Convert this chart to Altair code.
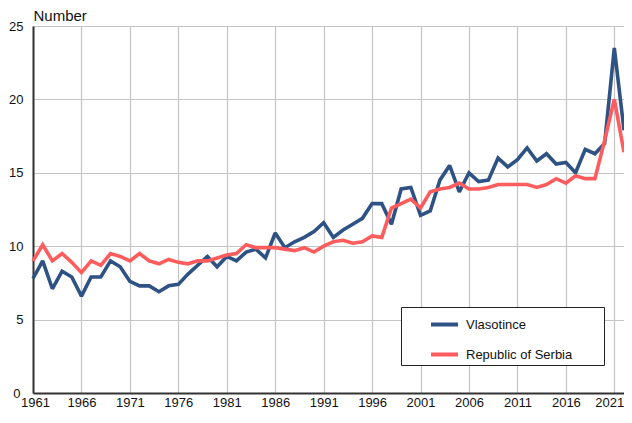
import altair as alt
import pandas as pd

years = list(range(1961, 2023))
vlasotince = [7.8, 9.0, 7.1, 8.3, 7.9, 6.6, 7.9, 7.9, 9.0, 8.6,
              7.6, 7.3, 7.3, 6.9, 7.3, 7.4, 8.1, 8.7, 9.3, 8.6,
              9.3, 9.0, 9.6, 9.8, 9.2, 10.9, 9.9, 10.3, 10.6, 11.0,
              11.6, 10.6, 11.1, 11.5, 11.9, 12.9, 12.9, 11.5, 13.9, 14.0,
              12.1, 12.4, 14.5, 15.5, 13.7, 15.0, 14.4, 14.5, 16.0, 15.4,
              15.9, 16.7, 15.8, 16.3, 15.6, 15.7, 15.0, 16.6, 16.3, 17.0,
              23.5, 17.9]
serbia = [9.0, 10.1, 9.0, 9.5, 8.9, 8.2, 9.0, 8.7, 9.5, 9.3,
          9.0, 9.5, 9.0, 8.8, 9.1, 8.9, 8.8, 9.0, 9.0, 9.2,
          9.4, 9.5, 10.1, 9.9, 9.9, 9.9, 9.8, 9.7, 9.9, 9.6,
          10.0, 10.3, 10.4, 10.2, 10.3, 10.7, 10.6, 12.6, 12.9, 13.2,
          12.6, 13.7, 13.9, 14.0, 14.3, 13.9, 13.9, 14.0, 14.2, 14.2,
          14.2, 14.2, 14.0, 14.2, 14.6, 14.3, 14.8, 14.6, 14.6, 17.2,
          20.0, 16.4]
series_names = ["Vlasotince", "Republic of Serbia"]
series_colors = ["#2E5284", "#FF5C5E"]
x_ticks = list(range(1961, 2022, 5))
y_ticks = [0, 5, 10, 15, 20, 25]

rows = []
for name, vals in zip(series_names, [vlasotince, serbia]):
    for yr, v in zip(years, vals):
        rows.append({"year": yr, "value": v, "series": name})
df = pd.DataFrame(rows)

FONT = "Liberation Sans"
PAD = "\u00a0" * 8 + "\u200b"

chart = alt.Chart(df).mark_line(strokeWidth=3.6, strokeJoin="miter", strokeMiterLimit=2).encode(
    x=alt.X("year:Q",
            scale=alt.Scale(domain=[1961, 2022], nice=False, zero=False),
            axis=alt.Axis(values=x_ticks, format="d", title=None, ticks=False,
                          labelPadding=3, labelFontSize=13, labelFont=FONT,
                          labelColor="#111", domainColor="#333", domainWidth=2,
                          gridColor="#c4c4c4", gridWidth=1.2, labelFlush=False,
                          labelOffset={"condition": [
                              {"test": "datum.value == 2021", "value": -5},
                              {"test": "datum.value == 1961", "value": 2}],
                              "value": 0})),
    y=alt.Y("value:Q",
            scale=alt.Scale(domain=[0, 25], nice=False),
            axis=alt.Axis(values=y_ticks, title="Number", titleAngle=0,
                          titleX=0, titleY=-6, titleAlign="left",
                          titleBaseline="alphabetic", titleFontSize=15,
                          titleFontWeight="normal", titleFont=FONT, titleColor="#111",
                          ticks=False, labelFontSize=13,
                          labelPadding={"condition": {"test": "datum.value == 0", "value": 13},
                                        "value": 10},
                          labelFont=FONT, labelColor="#111",
                          domainColor="#333", domainWidth=2,
                          gridColor="#c4c4c4", gridWidth=1.2)),
    color=alt.Color("series:N",
                    scale=alt.Scale(domain=series_names, range=series_colors),
                    sort=series_names,
                    legend=alt.Legend(title=None, orient="none", legendX=368, legendY=281,
                                      symbolType="stroke", symbolSize=729,
                                      symbolStrokeWidth=4, symbolOffset=26,
                                      labelOffset=6, labelFontSize=13, labelFont=FONT,
                                      labelColor="#111", rowPadding=6, padding=2,
                                      strokeColor="#222", fillColor="#ffffff",
                                      labelExpr="datum.label + '" + PAD + "'",
                                      labelLimit=400)),
).properties(
    width=591, height=367,
    autosize=alt.AutoSizeParams(type="none"),
    padding={"left": 25, "top": 18, "right": 0, "bottom": 18},
).configure_view(stroke="#000", strokeWidth=1).configure(background="white")

chart.save("out.html", embed_options={"renderer": "svg", "actions": False})
